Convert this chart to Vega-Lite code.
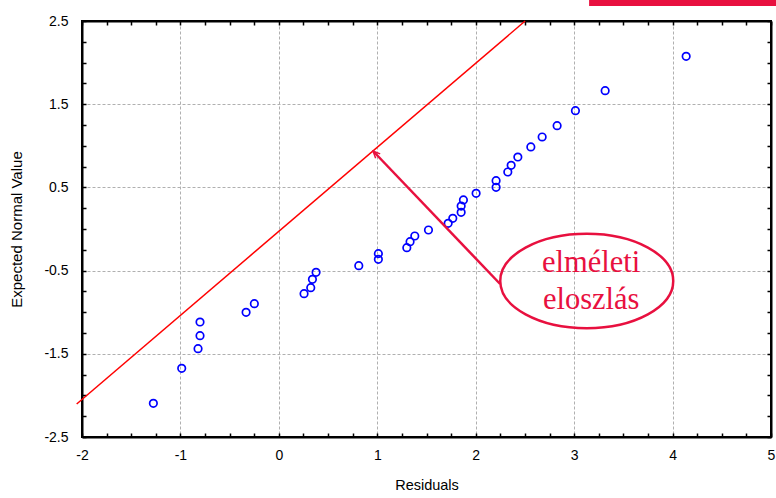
{
  "$schema": "https://vega.github.io/schema/vega-lite/v6.json",
  "width": 689,
  "height": 416,
  "autosize": "none",
  "padding": {"left": 82, "top": 21, "right": 5, "bottom": 61},
  "background": "white",
  "config": {
    "view": {"stroke": "black", "strokeWidth": 2},
    "font": "Liberation Sans",
    "axis": {
      "domainColor": "black",
      "domainWidth": 2,
      "tickColor": "black",
      "tickWidth": 1.5,
      "tickSize": -4,
      "labelColor": "black",
      "labelFont": "Liberation Sans",
      "labelFontSize": 14,
      "titleFont": "Liberation Sans",
      "titleFontSize": 14.5,
      "titleFontWeight": "normal",
      "titleColor": "black",
      "gridColor": "#b0b0b0",
      "gridDash": [3, 2],
      "gridWidth": 1
    }
  },
  "datasets": {
    "pts": [
      {"x": -1.275, "y": -2.095}, {"x": -0.987, "y": -1.675}, {"x": -0.821, "y": -1.438},
      {"x": -0.801, "y": -1.282}, {"x": -0.801, "y": -1.118}, {"x": -0.333, "y": -1.002},
      {"x": -0.249, "y": -0.897}, {"x": 0.256, "y": -0.777}, {"x": 0.324, "y": -0.705},
      {"x": 0.341, "y": -0.605}, {"x": 0.378, "y": -0.521}, {"x": 0.812, "y": -0.441},
      {"x": 1.011, "y": -0.365}, {"x": 1.011, "y": -0.296}, {"x": 1.300, "y": -0.224},
      {"x": 1.333, "y": -0.152}, {"x": 1.381, "y": -0.084}, {"x": 1.520, "y": -0.012},
      {"x": 1.720, "y": 0.068}, {"x": 1.767, "y": 0.128}, {"x": 1.852, "y": 0.200},
      {"x": 1.852, "y": 0.276}, {"x": 1.875, "y": 0.349}, {"x": 2.004, "y": 0.429},
      {"x": 2.207, "y": 0.501}, {"x": 2.207, "y": 0.581}, {"x": 2.326, "y": 0.685},
      {"x": 2.360, "y": 0.765}, {"x": 2.428, "y": 0.865}, {"x": 2.560, "y": 0.986},
      {"x": 2.675, "y": 1.106}, {"x": 2.827, "y": 1.242}, {"x": 3.013, "y": 1.422},
      {"x": 3.315, "y": 1.663}, {"x": 4.138, "y": 2.075}
    ],
    "fit": [{"x": -2.054, "y": -2.103}, {"x": 2.502, "y": 2.5}],
    "arrow": [{"x": 2.248, "y": -0.661}, {"x": 0.957, "y": 0.9375}],
    "head": [{"x": 0.957, "y": 0.9375}],
    "ell": [{"x": 3.128, "y": -0.625}],
    "lbl": [{"x": 3.173, "y": -0.513, "t": "elméleti"}, {"x": 3.173, "y": -0.960, "t": "eloszlás"}],
    "box": [{"x": 3.152, "x2": 8, "y": 2.68, "y2": 2.9}]
  },
  "layer": [
    {
      "data": {"name": "pts"},
      "mark": {"type": "point", "filled": false, "color": "#0000ff", "strokeWidth": 1.7, "size": 56, "opacity": 1},
      "encoding": {
        "x": {
          "field": "x", "type": "quantitative",
          "scale": {"domain": [-2, 5], "nice": false, "zero": false},
          "axis": {
            "orient": "bottom",
            "values": [-2,-1.75,-1.5,-1.25,-1,-0.75,-0.5,-0.25,0,0.25,0.5,0.75,1,1.25,1.5,1.75,2,2.25,2.5,2.75,3,3.25,3.5,3.75,4,4.25,4.5,4.75,5],
            "labelExpr": "datum.value % 1 == 0 ? '' + datum.value : ''",
            "grid": true,
            "gridOpacity": {"condition": {"test": "datum.value % 1 == 0", "value": 1}, "value": 0},
            "labelPadding": 15,
            "labelFlush": false,
            "labelOverlap": false,
            "title": "Residuals",
            "titlePadding": 16
          }
        },
        "y": {
          "field": "y", "type": "quantitative",
          "scale": {"domain": [-2.5, 2.5], "nice": false, "zero": false},
          "axis": {
            "orient": "left",
            "values": [-2.5,-2.25,-2,-1.75,-1.5,-1.25,-1,-0.75,-0.5,-0.25,0,0.25,0.5,0.75,1,1.25,1.5,1.75,2,2.25,2.5],
            "labelExpr": "abs(datum.value % 1) == 0.5 ? '' + datum.value : ''",
            "grid": true,
            "gridOpacity": {"condition": {"test": "abs(datum.value % 1) == 0.5", "value": 1}, "value": 0},
            "labelPadding": 18,
            "labelFlush": false,
            "labelOverlap": false,
            "title": "Expected Normal Value",
            "titleFontSize": 15,
            "titlePadding": 19
          }
        }
      }
    },
    {
      "data": {"name": "fit"},
      "mark": {"type": "line", "color": "#ff0000", "strokeWidth": 1.5, "clip": false},
      "encoding": {
        "x": {
          "field": "x", "type": "quantitative",
          "axis": {
            "orient": "top",
            "values": [-2,-1.75,-1.5,-1.25,-1,-0.75,-0.5,-0.25,0,0.25,0.5,0.75,1,1.25,1.5,1.75,2,2.25,2.5,2.75,3,3.25,3.5,3.75,4,4.25,4.5,4.75,5],
            "labels": false, "grid": false, "title": null
          }
        },
        "y": {
          "field": "y", "type": "quantitative",
          "axis": {
            "orient": "right",
            "values": [-2.5,-2.25,-2,-1.75,-1.5,-1.25,-1,-0.75,-0.5,-0.25,0,0.25,0.5,0.75,1,1.25,1.5,1.75,2,2.25,2.5],
            "labels": false, "grid": false, "title": null
          }
        }
      }
    },
    {
      "data": {"name": "arrow"},
      "mark": {"type": "line", "color": "#e8103f", "strokeWidth": 2.5, "clip": false},
      "encoding": {
        "x": {"field": "x", "type": "quantitative", "axis": null},
        "y": {"field": "y", "type": "quantitative", "axis": null}
      }
    },
    {
      "data": {"name": "head"},
      "mark": {"type": "point", "shape": "M -0.45 1 L 0 0 L 0.45 1", "filled": false, "color": "#e8103f", "strokeWidth": 1.5, "size": 196, "angle": 316, "opacity": 1, "clip": false},
      "encoding": {
        "x": {"field": "x", "type": "quantitative", "axis": null},
        "y": {"field": "y", "type": "quantitative", "axis": null}
      }
    },
    {
      "data": {"name": "ell"},
      "mark": {"type": "point", "shape": "M -1 0 A 1 0.545 0 1 1 1 0 A 1 0.545 0 1 1 -1 0 Z", "filled": false, "color": "#e8103f", "strokeWidth": 2.5, "size": 29929, "opacity": 1, "clip": false},
      "encoding": {
        "x": {"field": "x", "type": "quantitative", "axis": null},
        "y": {"field": "y", "type": "quantitative", "axis": null}
      }
    },
    {
      "data": {"name": "lbl"},
      "mark": {"type": "text", "font": "Liberation Serif", "fontSize": 30.5, "color": "#e8103f", "align": "center", "baseline": "alphabetic", "clip": false},
      "encoding": {
        "x": {"field": "x", "type": "quantitative", "axis": null},
        "y": {"field": "y", "type": "quantitative", "axis": null},
        "text": {"field": "t"}
      }
    },
    {
      "data": {"name": "box"},
      "mark": {"type": "rect", "fill": "#e8103f", "fillOpacity": 1, "strokeWidth": 0, "clip": false},
      "encoding": {
        "x": {"field": "x", "type": "quantitative", "axis": null},
        "x2": {"field": "x2"},
        "y": {"field": "y", "type": "quantitative", "axis": null},
        "y2": {"field": "y2"}
      }
    }
  ],
  "resolve": {"axis": {"x": "independent", "y": "independent"}}
}
